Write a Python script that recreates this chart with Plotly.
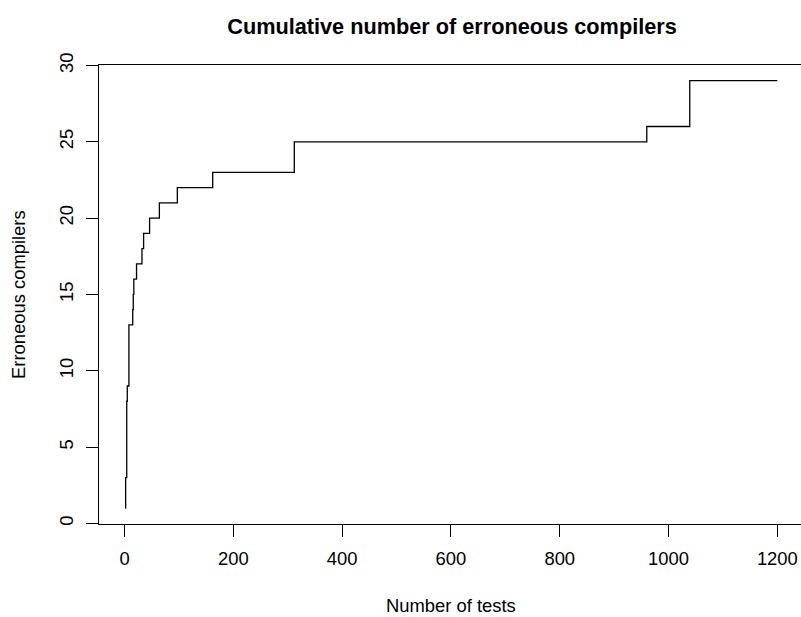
import plotly.graph_objects as go

# Step data: number of tests at which the cumulative count changes
tests = [1, 2, 4, 5, 8, 15, 16, 17, 22, 32, 35, 46, 64, 97, 162, 312, 960, 1039, 1200]
errors = [1, 3, 8, 9, 13, 14, 15, 16, 17, 18, 19, 20, 21, 22, 23, 25, 26, 29, 29]

x_ticks = [0, 200, 400, 600, 800, 1000, 1200]
y_ticks = [0, 5, 10, 15, 20, 25, 30]

FONT = "Liberation Sans, Arial, Helvetica, sans-serif"

ML, MR, MT, MB = 99, 0, 65, 93
W, H = 801, 617
plot_w = W - ML - MR
plot_h = H - MT - MB

fig = go.Figure()
fig.add_trace(go.Scatter(
    x=tests, y=errors, mode="lines", line_shape="hv",
    line=dict(color="black", width=1.3), showlegend=False, hoverinfo="skip"))

fig.update_layout(
    width=W, height=H,
    paper_bgcolor="white", plot_bgcolor="white",
    margin=dict(l=ML, r=MR, t=MT, b=MB, pad=0),
    font=dict(family=FONT, size=18, color="black"),
    title=dict(text="<b>Cumulative number of erroneous compilers</b>",
               font=dict(family=FONT, size=21.7, color="black"),
               x=452 / W, xref="container", xanchor="center",
               y=1 - 26 / H, yref="container", yanchor="middle"),
    xaxis=dict(range=[-47, 1243.5], tickvals=x_ticks, ticktext=[str(v) for v in x_ticks],
               showgrid=False, zeroline=False, showline=True, linecolor="black",
               linewidth=1, mirror=True, ticks="outside", ticklen=12, tickwidth=1,
               tickcolor="black", tickfont=dict(size=18.4), ticklabelstandoff=6),
    yaxis=dict(range=[-0.04, 30.03], tickvals=y_ticks, ticktext=[str(v) for v in y_ticks],
               showgrid=False, zeroline=False, showline=True, linecolor="black",
               linewidth=1, ticks="outside", ticklen=12, tickwidth=1,
               tickcolor="black", tickangle=-90, tickfont=dict(size=18.4),
               ticklabelstandoff=6),
    annotations=[
        dict(text="Number of tests", x=(451.4 - ML) / plot_w, y=(H - MB - 605) / plot_h,
             xref="paper", yref="paper", showarrow=False,
             font=dict(size=18.4), xanchor="center", yanchor="middle"),
        dict(text="Erroneous compilers", x=(18 - ML) / plot_w, y=(H - MB - 295) / plot_h,
             xref="paper", yref="paper", showarrow=False, textangle=-90,
             font=dict(size=18.4), xanchor="center", yanchor="middle"),
    ],
)

fig.write_html("out.html", config={"displayModeBar": False},
               post_script="document.body.style.margin='0';")
